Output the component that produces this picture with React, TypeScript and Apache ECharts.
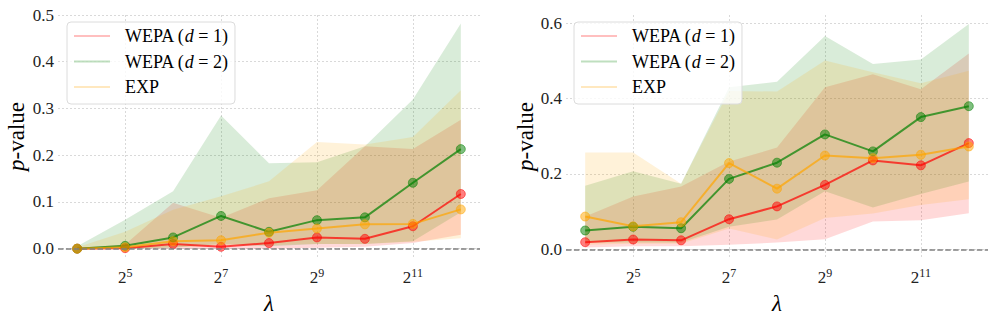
import React, { useEffect, useRef } from "react";
import * as echarts from "echarts";

// ---------- data ----------
const lambdaExp = [4, 5, 6, 7, 8, 9, 10, 11, 12];
const xTickExp = [5, 7, 9, 11];
const leftYTicks = [0, 0.1, 0.2, 0.3, 0.4, 0.5];
const rightYTicks = [0, 0.2, 0.4, 0.6];
const seriesNames = ["WEPA (d = 1)", "WEPA (d = 2)", "EXP"];

// left panel
const leftWepa1 = [0.0, 0.001, 0.01, 0.004, 0.012, 0.024, 0.021, 0.048, 0.117];
const leftWepa1Lo = [0, 0, 0, 0, 0, 0.002, 0.004, 0.012, 0.03];
const leftWepa1Hi = [0.002, 0.009, 0.098, 0.066, 0.108, 0.125, 0.219, 0.213, 0.276];
const leftWepa2 = [0.0, 0.006, 0.024, 0.07, 0.036, 0.061, 0.067, 0.141, 0.213];
const leftWepa2Lo = [0, 0, 0.002, 0.01, 0.005, 0.01, 0.01, 0.016, 0.078];
const leftWepa2Hi = [0.005, 0.062, 0.123, 0.285, 0.183, 0.185, 0.219, 0.319, 0.482];
const leftExp = [0.0, 0.003, 0.016, 0.018, 0.034, 0.043, 0.052, 0.053, 0.084];
const leftExpLo = [0, 0, 0.003, 0.006, 0.008, 0.01, 0.01, 0.015, 0.022];
const leftExpHi = [0.003, 0.036, 0.083, 0.112, 0.144, 0.228, 0.223, 0.239, 0.339];

// right panel
const rightWepa1 = [0.019, 0.026, 0.024, 0.08, 0.114, 0.171, 0.236, 0.223, 0.282];
const rightWepa1Lo = [0.005, 0.008, 0.008, 0.012, 0.018, 0.027, 0.074, 0.077, 0.096];
const rightWepa1Hi = [0.087, 0.14, 0.167, 0.233, 0.27, 0.43, 0.465, 0.425, 0.52];
const rightWepa2 = [0.05, 0.06, 0.056, 0.187, 0.23, 0.305, 0.26, 0.351, 0.38];
const rightWepa2Lo = [0.018, 0.018, 0.018, 0.06, 0.079, 0.154, 0.111, 0.147, 0.18];
const rightWepa2Hi = [0.169, 0.207, 0.174, 0.43, 0.445, 0.566, 0.492, 0.504, 0.598];
const rightExp = [0.087, 0.061, 0.072, 0.229, 0.161, 0.249, 0.242, 0.251, 0.273];
const rightExpLo = [0.012, 0.015, 0.015, 0.055, 0.026, 0.083, 0.095, 0.118, 0.133];
const rightExpHi = [0.257, 0.257, 0.174, 0.42, 0.419, 0.501, 0.47, 0.441, 0.474];

// ---------- styling ----------
const COLORS = ["#ff0000", "#008000", "#ffa500"];
const FONT = "'Liberation Serif', 'DejaVu Serif', serif";

function rgba(hex: string, a: number) {
  const r = parseInt(hex.slice(1, 3), 16);
  const g = parseInt(hex.slice(3, 5), 16);
  const b = parseInt(hex.slice(5, 7), 16);
  return `rgba(${r},${g},${b},${a})`;
}

function bandSeries(idx: number, color: string, lo: number[], hi: number[]) {
  return {
    type: "custom",
    xAxisIndex: idx,
    yAxisIndex: idx,
    silent: true,
    data: lambdaExp.map((x, i) => [x, lo[i], hi[i]]),
    encode: { x: 0, y: [1, 2] },
    renderItem: (params: any, api: any) => {
      if (params.dataIndex !== 0) return null;
      const pts: number[][] = [];
      for (let i = 0; i < lambdaExp.length; i++) pts.push(api.coord([lambdaExp[i], hi[i]]));
      for (let i = lambdaExp.length - 1; i >= 0; i--) pts.push(api.coord([lambdaExp[i], lo[i]]));
      return {
        type: "polygon",
        shape: { points: pts },
        style: { fill: rgba(color, 0.15), stroke: "none" },
      };
    },
  };
}

function lineSeries(idx: number, name: string, color: string, vals: number[], withZero: boolean) {
  const s: any = {
    type: "line",
    name,
    xAxisIndex: idx,
    yAxisIndex: idx,
    data: lambdaExp.map((x, i) => [x, vals[i]]),
    symbol: "circle",
    symbolSize: 9,
    showSymbol: true,
    silent: true,
    emphasis: { disabled: true },
    lineStyle: { color, width: 2, opacity: 0.7 },
    itemStyle: { color, opacity: 0.5, borderColor: color, borderWidth: 1 },
  };
  if (withZero) {
    s.markLine = {
      silent: true,
      symbol: ["none", "none"],
      label: { show: false },
      lineStyle: { color: "#808080", width: 1.5, type: [5.5, 2.4] },
      data: [{ yAxis: 0 }],
    };
  }
  return s;
}

function panelSeries(idx: number, means: number[][], los: number[][], his: number[][]) {
  const out: any[] = [];
  for (let k = 0; k < 3; k++) {
    out.push(bandSeries(idx, COLORS[k], los[k], his[k]));
    out.push(lineSeries(idx, seriesNames[k], COLORS[k], means[k], k === 0));
  }
  return out;
}

const gridLine = { show: true, lineStyle: { color: "#cfcfcf", width: 0.8, type: [2, 2] } };

function xAxis(idx: number) {
  return {
    type: "value",
    gridIndex: idx,
    min: 3.6,
    max: 12.4,
    axisLine: { show: false },
    axisTick: { show: false, customValues: xTickExp },
    axisLabel: {
      customValues: xTickExp,
      margin: 9,
      formatter: (v: number) => `{a|2}{b|${v}}`,
      rich: {
        a: { fontFamily: FONT, fontSize: 17, lineHeight: 20, color: "#222" },
        b: { fontFamily: FONT, fontSize: 12, lineHeight: 12, padding: [0, 0, 9, 0], color: "#222" },
      },
    },
    splitLine: gridLine,
    name: "λ",
    nameLocation: "middle",
    nameGap: 31,
    nameTextStyle: { fontFamily: FONT, fontSize: 23, fontStyle: "italic", color: "#000" },
  };
}

function yAxis(idx: number, min: number, max: number, ticks: number[], gap: number) {
  return {
    type: "value",
    gridIndex: idx,
    min,
    max,
    axisLine: { show: false },
    axisTick: { show: false, customValues: ticks },
    axisLabel: {
      customValues: ticks,
      margin: 4,
      formatter: (v: number) => v.toFixed(1),
      fontFamily: FONT,
      fontSize: 17,
      color: "#222",
    },
    splitLine: gridLine,
    name: "{i|p}{n|-value}",
    nameLocation: "middle",
    nameGap: gap,
    nameTextStyle: {
      color: "#000",
      rich: {
        i: { fontFamily: FONT, fontSize: 23, fontStyle: "italic", color: "#000" },
        n: { fontFamily: FONT, fontSize: 23, color: "#000" },
      },
    },
  };
}

function legend(left: number) {
  return {
    orient: "vertical",
    left,
    top: 22,
    selectedMode: false,
    itemWidth: 36,
    itemHeight: 2,
    itemGap: 5.5,
    padding: [4, 7, 7, 7],
    backgroundColor: "rgba(255,255,255,0.8)",
    borderColor: "#dcdcdc",
    borderWidth: 1,
    borderRadius: 4,
    data: seriesNames.map((n, k) => ({
      name: n,
      icon: "rect",
      itemStyle: { color: rgba(COLORS[k], 0.5), borderWidth: 0 },
    })),
    formatter: (name: string) => {
      const m = name.match(/^WEPA \(d = (\d)\)$/);
      if (m) return `{n|WEPA (}{i|d}{n| = ${m[1]})}`;
      return `{n|${name}}`;
    },
    textStyle: {
      fontFamily: FONT,
      fontSize: 18,
      lineHeight: 20,
      color: "#000",
      padding: [0, 0, 0, 10],
      rich: {
        n: { fontFamily: FONT, fontSize: 18, lineHeight: 20, color: "#000" },
        i: { fontFamily: FONT, fontSize: 18, lineHeight: 20, fontStyle: "italic", color: "#000" },
      },
    },
  };
}

const option: any = {
  animation: false,
  backgroundColor: "#ffffff",
  grid: [
    { left: 58, width: 422, top: 15, height: 243, outerBoundsMode: "none", containLabel: false },
    { left: 566, width: 422, top: 15, height: 243, outerBoundsMode: "none", containLabel: false },
  ],
  xAxis: [xAxis(0), xAxis(1)],
  yAxis: [yAxis(0, -0.02, 0.5, leftYTicks, 30), yAxis(1, -0.023, 0.622, rightYTicks, 27)],
  legend: [legend(67), legend(574)],
  series: [
    ...panelSeries(
      0,
      [leftWepa1, leftWepa2, leftExp],
      [leftWepa1Lo, leftWepa2Lo, leftExpLo],
      [leftWepa1Hi, leftWepa2Hi, leftExpHi]
    ),
    ...panelSeries(
      1,
      [rightWepa1, rightWepa2, rightExp],
      [rightWepa1Lo, rightWepa2Lo, rightExpLo],
      [rightWepa1Hi, rightWepa2Hi, rightExpHi]
    ),
  ],
};

export default function App() {
  const ref = useRef<HTMLDivElement>(null);
  useEffect(() => {
    if (!ref.current) return;
    const chart = echarts.init(ref.current, null, { renderer: "svg" });
    chart.setOption(option);
    return () => chart.dispose();
  }, []);
  return (
    <div
      ref={ref}
      style={{ position: "fixed", left: 0, top: 0, width: 996, height: 320, background: "#fff" }}
    />
  );
}
